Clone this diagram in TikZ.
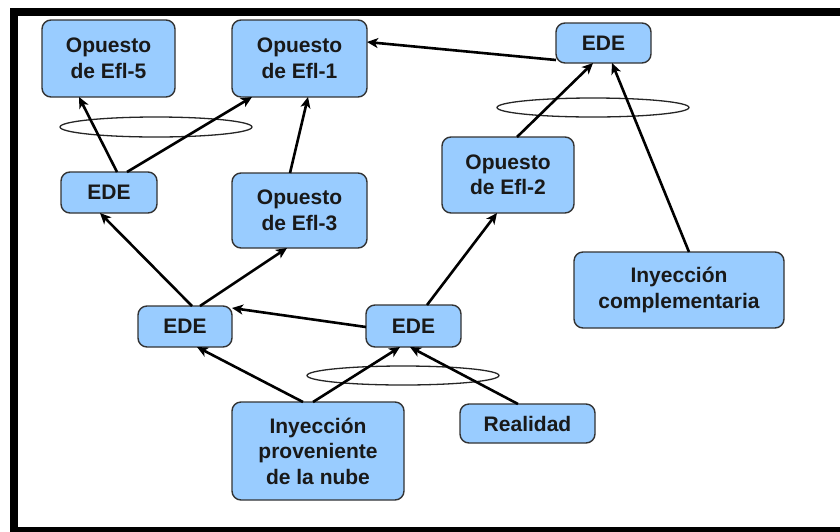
\documentclass[tikz,border=0pt]{standalone}
\usepackage{fontspec}
\setmainfont{Liberation Sans}
\usetikzlibrary{arrows.meta,calc}
\definecolor{boxfill}{HTML}{99CCFF}
\definecolor{boxline}{HTML}{333333}
\tikzset{
  box/.style={draw=boxline, fill=boxfill, line width=1.4pt, rounded corners=9pt,
    align=center, inner sep=0pt, font=\fontsize{21}{25.5}\selectfont\bfseries,
    text=black!90},
  conn/.style={draw=black, line width=2.6pt, -{Stealth[length=11pt,width=10pt,inset=3pt]}},
  ring/.style={draw=black!85, line width=1.3pt},
}
\begin{document}
\begin{tikzpicture}[x=1pt,y=-1pt]
\useasboundingbox (0,0) rectangle (840,531);
\clip (0,0) rectangle (840,531);
\fill[white] (0,0) rectangle (840,531);
\draw[line width=8pt] (14,12) rectangle (860,531);

\node[box, minimum width=133pt, minimum height=77pt] (e5) at (108.5,58.5) {Opuesto\\de Efl-5};
\node[box, minimum width=135pt, minimum height=77pt] (e1) at (299.5,58.5) {Opuesto\\de Efl-1};
\node[box, minimum width=95pt, minimum height=40pt] (edeTR) at (603.5,43) {EDE};
\node[box, minimum width=96pt, minimum height=41pt] (edeL) at (109,192.5) {EDE};
\node[box, minimum width=135pt, minimum height=75pt] (e3) at (299.5,210.5) {Opuesto\\de Efl-3};
\node[box, minimum width=132pt, minimum height=76pt] (e2) at (508,175) {Opuesto\\de Efl-2};
\node[box, minimum width=210pt, minimum height=76pt] (inyC) at (679,290) {Inyección\\complementaria};
\node[box, minimum width=94pt, minimum height=41pt] (edeML) at (185,326.5) {EDE};
\node[box, minimum width=95pt, minimum height=42pt] (edeMR) at (413.5,326) {EDE};
\node[box, minimum width=172pt, minimum height=98pt] (nube) at (318,451) {Inyección\\proveniente\\de la nube};
\node[box, minimum width=135pt, minimum height=39pt] (real) at (527.5,423.5) {Realidad};

\draw[ring] (156,127) ellipse [x radius=96, y radius=10];
\draw[ring] (593,107.5) ellipse [x radius=96, y radius=9.5];
\draw[ring] (403,375.5) ellipse [x radius=96, y radius=9.5];

\draw[conn] ($(edeTR)+(-47.5,17)$) -- ($(e1)+(67.5,-16.5)$);
\draw[conn] ($(edeL)+(8,-20.5)$) -- ($(e5)+(-29.5,38.5)$);
\draw[conn] ($(edeL)+(18,-20.5)$) -- ($(e1)+(-47.5,38.5)$);
\draw[conn] ($(e3)+(-9.5,-37.5)$) -- ($(e1)+(8.5,38.5)$);
\draw[conn] ($(edeML)+(7,-20.5)$) -- ($(edeL)+(-9,20.5)$);
\draw[conn] ($(edeML)+(15,-20.5)$) -- ($(e3)+(-12.5,37.5)$);
\draw[conn] ($(edeMR)+(-47.5,1)$) -- ($(edeML)+(47,-18.5)$);
\draw[conn] ($(edeMR)+(13.5,-21)$) -- ($(e2)+(-11,38)$);
\draw[conn] ($(e2)+(9,-38)$) -- ($(edeTR)+(-10.5,20)$);
\draw[conn] ($(inyC)+(10,-38)$) -- ($(edeTR)+(8.5,20)$);
\draw[conn] ($(nube)+(-15,-49)$) -- ($(edeML)+(12,20.5)$);
\draw[conn] ($(nube)+(-5,-49)$) -- ($(edeMR)+(-13.5,21)$);
\draw[conn] ($(real)+(-9.5,-19.5)$) -- ($(edeMR)+(-3.5,21)$);
\end{tikzpicture}
\end{document}
